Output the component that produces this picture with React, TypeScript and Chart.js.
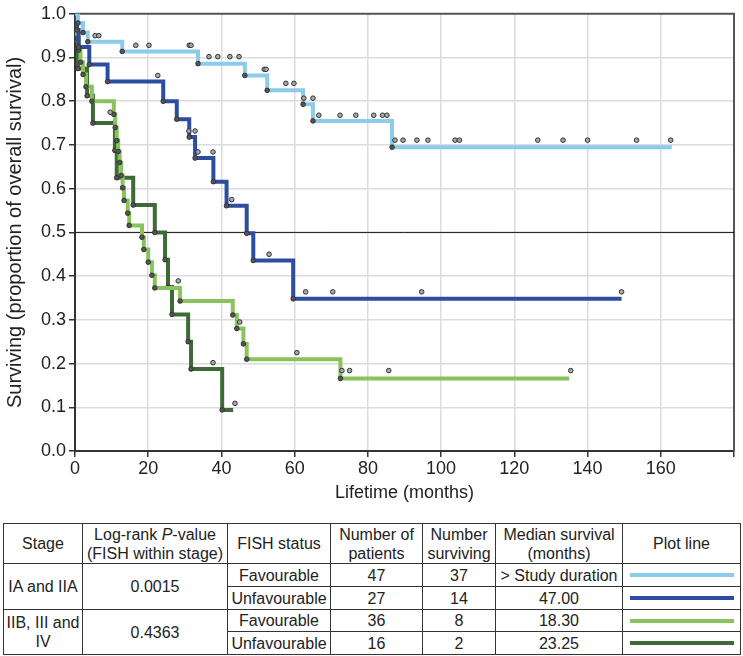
import React, { useEffect, useRef } from 'react';
import { Chart, registerables } from 'chart.js';

Chart.register(...registerables);

// step curves: time (months) / survival proportion after each event
const lightBlueTimes = [0, 0.8, 2.2, 3.5, 12.9, 33.6, 46.4, 52.5, 62.3, 65, 86.6, 163];
const lightBlueSurv = [1, 0.979, 0.957, 0.936, 0.914, 0.886, 0.859, 0.825, 0.793, 0.755, 0.695, 0.695];

const darkBlueTimes = [0, 0.5, 1, 3.9, 8.9, 24.1, 27.8, 31.2, 32.8, 37.8, 41.4, 46.9, 48.7, 59.6, 149.3];
const darkBlueSurv = [1, 0.963, 0.924, 0.884, 0.845, 0.8, 0.759, 0.718, 0.67, 0.616, 0.561, 0.498, 0.436, 0.348, 0.348];

const lightGreenTimes = [0, 0.3, 0.6, 1, 1.5, 2.2, 3, 4.6, 10.6, 11.0, 11.4, 11.8, 12.2, 12.6, 13.0, 13.4, 14.4, 14.8, 18.3, 18.8, 20, 21, 21.8, 28.7, 43.1, 44.2, 46, 46.9, 72.5, 135];
const lightGreenSurv = [1, 0.972, 0.944, 0.917, 0.889, 0.861, 0.833, 0.8, 0.77, 0.74, 0.71, 0.685, 0.66, 0.63, 0.602, 0.573, 0.544, 0.516, 0.489, 0.461, 0.432, 0.402, 0.373, 0.343, 0.311, 0.28, 0.245, 0.21, 0.166, 0.166];

const darkGreenTimes = [0, 0.3, 0.8, 3.3, 4.9, 10.9, 11.4, 15.9, 21.8, 24.6, 25.4, 26.5, 30.9, 31.7, 40.2, 43.2];
const darkGreenSurv = [1, 0.9375, 0.875, 0.8125, 0.75, 0.6875, 0.625, 0.5625, 0.5, 0.4375, 0.375, 0.3125, 0.25, 0.1875, 0.094, 0.094];

// censored observations (as plotted, slightly above the line)
const lightBlueCensorT = [5.5, 6.5, 16.6, 20.2, 31.2, 31.7, 36.6, 39, 42.3, 44.8, 51.7, 52.2, 57.6, 59.8, 62.5, 65, 66.6, 72.4, 76.7, 81.6, 84, 85.2, 87.4, 89.6, 93.4, 96.4, 103.8, 105, 126.4, 133.3, 140, 153.4, 162.7];
const lightBlueCensorS = [0.95, 0.95, 0.928, 0.928, 0.928, 0.928, 0.902, 0.902, 0.902, 0.902, 0.873, 0.873, 0.841, 0.841, 0.807, 0.807, 0.768, 0.768, 0.768, 0.768, 0.768, 0.768, 0.711, 0.711, 0.711, 0.711, 0.711, 0.711, 0.711, 0.711, 0.711, 0.711, 0.711];

const darkBlueCensorT = [22.6, 31.1, 32.8, 33.6, 37.7, 42.8, 53, 63, 70.4, 94.7, 149.3];
const darkBlueCensorS = [0.859, 0.732, 0.732, 0.684, 0.684, 0.575, 0.45, 0.364, 0.364, 0.364, 0.364];

const lightGreenCensorT = [9.6, 28.2, 45, 60.6, 72.9, 75, 85.7, 135.4];
const lightGreenCensorS = [0.775, 0.389, 0.295, 0.225, 0.184, 0.184, 0.184, 0.184];

const darkGreenCensorT = [37.7, 43.7];
const darkGreenCensorS = [0.202, 0.109];

const halfLineT = [0, 180];
const halfLineS = [0.5, 0.5];

const xTicks = [0, 20, 40, 60, 80, 100, 120, 140, 160];

const LIGHT_BLUE = '#8ccbea';
const DARK_BLUE = '#2d4da0';
const LIGHT_GREEN = '#89c35c';
const DARK_GREEN = '#3e6a37';
const FONT = "'Liberation Sans', Arial, sans-serif";

const toPoints = (ts: number[], ss: number[]) => ts.map((t, i) => ({ x: t, y: ss[i] }));

const censorSet = (ts: number[], ss: number[]) => ({
  type: 'scatter' as const,
  data: toPoints(ts, ss),
  showLine: false,
  pointRadius: 2.3,
  pointBorderWidth: 1,
  pointBackgroundColor: '#a8a8a8',
  pointBorderColor: '#333',
});

const stepSet = (ts: number[], ss: number[], color: string) => ({
  type: 'line' as const,
  data: toPoints(ts, ss),
  stepped: true,
  borderColor: color,
  borderWidth: 4,
  pointRadius: (c: any) => (c.dataIndex === 0 || c.dataIndex === ts.length - 1 ? 0 : 2.3),
  pointBackgroundColor: '#555',
  pointBorderColor: '#333',
  pointBorderWidth: 1,
});

// top + right frame of the plot box
const frameBorder = {
  id: 'frameBorder',
  beforeDatasetsDraw(chart: any) {
    const { ctx, chartArea } = chart;
    ctx.save();
    ctx.strokeStyle = '#555';
    ctx.lineWidth = 2;
    ctx.beginPath();
    ctx.moveTo(chartArea.left, chartArea.top);
    ctx.lineTo(chartArea.right, chartArea.top);
    ctx.lineTo(chartArea.right, chartArea.bottom);
    ctx.stroke();
    ctx.restore();
  },
};

const SurvivalChart: React.FC = () => {
  const canvasRef = useRef<HTMLCanvasElement>(null);

  useEffect(() => {
    if (!canvasRef.current) return;
    const chart = new Chart(canvasRef.current, {
      type: 'line',
      data: {
        datasets: [
          censorSet(lightBlueCensorT, lightBlueCensorS),
          censorSet(darkBlueCensorT, darkBlueCensorS),
          censorSet(lightGreenCensorT, lightGreenCensorS),
          censorSet(darkGreenCensorT, darkGreenCensorS),
          stepSet(lightBlueTimes, lightBlueSurv, LIGHT_BLUE),
          stepSet(darkBlueTimes, darkBlueSurv, DARK_BLUE),
          stepSet(lightGreenTimes, lightGreenSurv, LIGHT_GREEN),
          stepSet(darkGreenTimes, darkGreenSurv, DARK_GREEN),
          {
            type: 'line',
            data: toPoints(halfLineT, halfLineS),
            borderColor: '#111',
            borderWidth: 1,
            pointRadius: 0,
          },
        ] as any,
      },
      options: {
        responsive: true,
        maintainAspectRatio: false,
        animation: false,
        layout: { padding: { top: 11, right: 9, bottom: 5, left: 0 } },
        plugins: { legend: { display: false }, tooltip: { enabled: false } },
        scales: {
          x: {
            type: 'linear',
            min: 0,
            max: 180,
            afterFit: (s: any) => { s.height = 64; },
            afterBuildTicks: (s: any) => { s.ticks = [...xTicks, 180].map((v) => ({ value: v })); },
            grid: { color: '#dcdcdc', lineWidth: 1.5, tickColor: '#333', tickLength: 6 },
            border: { display: true, color: '#333', width: 2 },
            ticks: {
              color: '#222',
              font: { family: FONT, size: 18 },
              padding: 1,
              maxRotation: 0,
              callback: (v: any) => (xTicks.includes(Number(v)) ? String(v) : ''),
            },
            title: {
              display: true,
              text: 'Lifetime (months)',
              color: '#222',
              font: { family: FONT, size: 18 },
              padding: { top: 4, bottom: 11 },
            },
          },
          y: {
            min: 0,
            max: 1,
            afterFit: (s: any) => { s.width = 75; },
            grid: { color: '#dcdcdc', lineWidth: 1.5, tickColor: '#333', tickLength: 6 },
            border: { display: true, color: '#333', width: 2 },
            ticks: {
              stepSize: 0.1,
              color: '#222',
              font: { family: FONT, size: 18 },
              padding: 3,
              callback: (v: any) => Number(v).toFixed(1),
            },
            title: {
              display: true,
              text: 'Surviving (proportion of overall survival)',
              color: '#222',
              font: { family: FONT, size: 20 },
              padding: { top: 3, bottom: 4 },
            },
          },
        },
      },
      plugins: [frameBorder],
    });
    return () => chart.destroy();
  }, []);

  return (
    <div style={{ position: 'relative', width: 743, height: 520 }}>
      <canvas ref={canvasRef} />
    </div>
  );
};

const cell: React.CSSProperties = {
  border: '1px solid #333',
  textAlign: 'center',
  verticalAlign: 'middle',
  padding: 0,
  lineHeight: '19px',
};

const bar = (color: string) => (
  <div style={{ width: 104, height: 4, background: color, margin: '0 auto' }} />
);

const App: React.FC = () => (
  <div
    style={{
      position: 'absolute',
      left: 0,
      top: 0,
      width: 743,
      height: 656,
      background: '#fff',
      fontFamily: FONT,
      color: '#222',
      overflow: 'hidden',
    }}
  >
    <SurvivalChart />
    <table
      style={{
        position: 'absolute',
        left: 3,
        top: 523,
        width: 737,
        borderCollapse: 'collapse',
        tableLayout: 'fixed',
        fontSize: 16,
      }}
    >
      <colgroup>
        <col style={{ width: 79 }} />
        <col style={{ width: 145 }} />
        <col style={{ width: 103 }} />
        <col style={{ width: 92 }} />
        <col style={{ width: 73 }} />
        <col style={{ width: 127 }} />
        <col style={{ width: 118 }} />
      </colgroup>
      <tbody>
        <tr style={{ height: 40 }}>
          <td style={cell}>Stage</td>
          <td style={cell}>Log-rank <i>P</i>-value<br />(FISH within stage)</td>
          <td style={cell}>FISH status</td>
          <td style={cell}>Number of<br />patients</td>
          <td style={cell}>Number<br />surviving</td>
          <td style={cell}>Median survival<br />(months)</td>
          <td style={cell}>Plot line</td>
        </tr>
        <tr style={{ height: 23 }}>
          <td style={cell} rowSpan={2}>IA and IIA</td>
          <td style={cell} rowSpan={2}>0.0015</td>
          <td style={cell}>Favourable</td>
          <td style={cell}>47</td>
          <td style={cell}>37</td>
          <td style={cell}>&gt; Study duration</td>
          <td style={cell}>{bar(LIGHT_BLUE)}</td>
        </tr>
        <tr style={{ height: 23 }}>
          <td style={cell}>Unfavourable</td>
          <td style={cell}>27</td>
          <td style={cell}>14</td>
          <td style={cell}>47.00</td>
          <td style={cell}>{bar(DARK_BLUE)}</td>
        </tr>
        <tr style={{ height: 22 }}>
          <td style={cell} rowSpan={2}>IIB, III and<br />IV</td>
          <td style={cell} rowSpan={2}>0.4363</td>
          <td style={cell}>Favourable</td>
          <td style={cell}>36</td>
          <td style={cell}>8</td>
          <td style={cell}>18.30</td>
          <td style={cell}>{bar(LIGHT_GREEN)}</td>
        </tr>
        <tr style={{ height: 23 }}>
          <td style={cell}>Unfavourable</td>
          <td style={cell}>16</td>
          <td style={cell}>2</td>
          <td style={cell}>23.25</td>
          <td style={cell}>{bar(DARK_GREEN)}</td>
        </tr>
      </tbody>
    </table>
  </div>
);

export default App;
